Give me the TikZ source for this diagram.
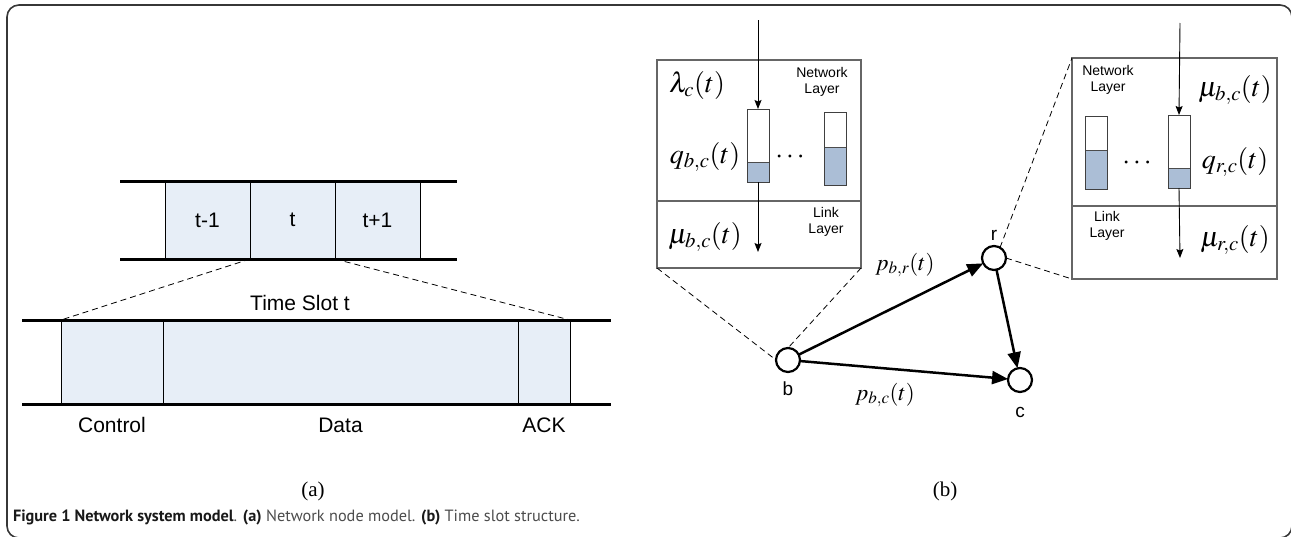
\documentclass[tikz,border=0pt]{standalone}
\usepackage{mathptmx}
\usepackage{fontspec}
\setmainfont{Liberation Sans}
\newfontfamily\capfont{PT Sans}
\newfontfamily\tagfont{Liberation Serif}
\usetikzlibrary{arrows.meta,positioning}
\definecolor{slotblue}{RGB}{231,238,247}
\definecolor{queueblue}{RGB}{171,190,214}
\definecolor{framegray}{RGB}{55,55,55}

\begin{document}
\begin{tikzpicture}[x=1pt,
y=-1pt,
every node/.style={
rectangle,
align=center,
inner sep=0pt,
outer sep=0pt,
},
slot/.style={
draw,
line width=0.8pt,
fill=slotblue,
anchor=north west,
},
bar/.style={line width=3pt},
layer/.style={draw=black!60, line width=1.1pt, anchor=north west},
queue/.style={draw=black!75, line width=0.9pt, fill=white, anchor=north west,
minimum width=22pt, minimum height=73pt,
path picture={
\fill[queueblue] (path picture bounding box.south west) rectangle ([yshift=#1]path picture bounding box.south east);
\draw[black!70,line width=0.9pt] ([yshift=#1]path picture bounding box.south west) -- ([yshift=#1]path picture bounding box.south east);
}},
big/.style={font=\fontsize{21}{24}\selectfont},
lbl/.style={font=\fontsize{21}{24}\selectfont, text height=15pt, text depth=4pt},
small/.style={font=\fontsize{14}{16}\selectfont},
math/.style={font=\fontsize{28}{30}\selectfont},
mathp/.style={font=\fontsize{23}{26}\selectfont},
flow/.style={-{Stealth[length=9pt,width=7pt,inset=1.5pt]}, line width=0.9pt},
zoomline/.style={dash pattern=on 6pt off 4pt, line width=0.8pt},
station/.style={circle, draw, line width=2.2pt, minimum size=24pt, fill=white},
link/.style={-{Triangle[length=16pt,width=13pt]}, line width=2.5pt},
]
\useasboundingbox (0,0) rectangle (1291,536);

%frame
\draw[framegray,line width=1.6pt,rounded corners=12pt] (7,5) rectangle (1292,538);

%(a) slots t-1, t, t+1
\node[slot,big,minimum width=85pt,minimum height=78pt] (prev) at(165,181) {t-1};
\node[slot,big,minimum width=85pt,minimum height=78pt,right=0pt of prev] (cur) {t};
\node[slot,big,minimum width=85pt,minimum height=78pt,right=0pt of cur] (next) {t+1};
\draw[bar] (120,181) -- (457,181) (120,259) -- (457,259);

%(a) one time slot
\node[slot,minimum width=102pt,minimum height=84pt] (ctrl) at(61,320) {};
\node[slot,minimum width=355pt,minimum height=84pt,right=0pt of ctrl] (data) {};
\node[slot,minimum width=52pt,minimum height=84pt,right=0pt of data] (ack) {};
\draw[bar] (22,320) -- (611,320) (22,404) -- (611,404);
\node[lbl,below=13pt of ctrl] (ctrllbl) {Control};
\node[lbl,below=13pt of data] (datalbl) {Data};
\node[lbl,below=13pt of ack] (acklbl) {ACK};
\node[big] (slotname) at(300,303) {Time Slot t};
\draw[zoomline] (cur.south west) -- (ctrl.north west) (cur.south east) -- (ack.north east);

%(b) queues of b
\node[layer,minimum width=204pt,minimum height=141pt] (netb) at(657,60) {};
\node[layer,minimum width=204pt,minimum height=67pt,below=0pt of netb] (linkb) {};
\node[queue=20pt] (qb1) at(747,109) {};
\node[queue=38pt] (qb2) at(824,112) {};
\coordinate (inb) at(758,20);
\coordinate (outb) at(758,252);
\draw[flow] (inb) -- (qb1.north);
\draw[flow] (qb1.south) -- (outb);
\node[math] (dotsb) at(790,157) {$\cdots$};
\node[math] (lamb) at(697,85) {$\lambda_c(t)$};
\node[math] (qbc) at(705,157) {$q_{b,c}(t)$};
\node[math] (mub) at(705,237) {$\mu_{b,c}(t)$};
\node[small] (netblbl) at(822,82) {Network\\Layer};
\node[small] (linkblbl) at(826,222) {Link\\Layer};

%(b) queues of r
\node[layer,minimum width=205pt,minimum height=148pt] (netr) at(1072,58) {};
\node[layer,minimum width=205pt,minimum height=73pt,below=0pt of netr] (linkr) {};
\node[queue=39pt] (qr1) at(1085,116) {};
\node[queue=20pt] (qr2) at(1168,115) {};
\coordinate (inr) at(1180,23);
\coordinate (outr) at(1180,258);
\draw[flow] (inr) -- (qr2.north);
\draw[flow] (qr2.south) -- (outr);
\node[math] (dotsr) at(1137,163) {$\cdots$};
\node[small] (netrlbl) at(1108,80) {Network\\Layer};
\node[small] (linkrlbl) at(1107,226) {Link\\Layer};
\node[math] (mubr) at(1235,90) {$\mu_{b,c}(t)$};
\node[math] (qrc) at(1235,162) {$q_{r,c}(t)$};
\node[math] (murc) at(1235,240) {$\mu_{r,c}(t)$};

%(b) stations
\node[station] (b) at(788,360) {};
\node[station] (r) at(994,258) {};
\node[station] (c) at(1020,380) {};
\node[font=\fontsize{19}{22}\selectfont,below=10pt of b] (blbl) {b};
\node[font=\fontsize{19}{22}\selectfont,above=6pt of r] (rlbl) {r};
\node[font=\fontsize{19}{22}\selectfont,below=15pt of c] (clbl) {c};
\draw[link] (b) -- (r);
\draw[link] (b) -- (c);
\draw[link] (r) -- (c);
\node[mathp] (pbr) at(905,265) {$p_{b,r}(t)$};
\node[mathp] (pbc) at(885,395) {$p_{b,c}(t)$};
\draw[zoomline] (linkb.south west) -- (b.west) (linkb.south east) -- (b.north);
\draw[zoomline] (r.60) -- (netr.north west) (r.east) -- (linkr.south west);

%sub captions
\node[font=\tagfont\fontsize{21}{24}\selectfont] (taga) at(313,491) {(a)};
\node[font=\tagfont\fontsize{21}{24}\selectfont] (tagb) at(945,491) {(b)};
\node[font=\capfont\fontsize{16.3}{18}\selectfont,text=black!70,anchor=west] (caption) at(13,517) {\textcolor{black!90}{\bfseries Figure 1 Network system model}. \textcolor{black!90}{\bfseries (a)} Network node model. \textcolor{black!90}{\bfseries (b)} Time slot structure.};
\end{tikzpicture}
\end{document}
